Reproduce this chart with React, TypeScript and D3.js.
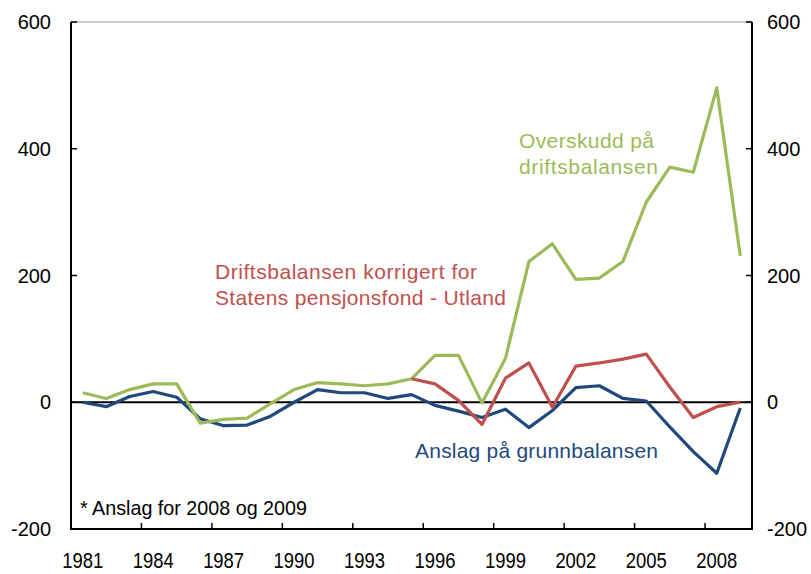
import React from 'react';
import { scaleBand, scaleLinear, line } from 'd3';

const years = Array.from({ length: 29 }, (_, i) => 1981 + i);
const tickYears = [1981, 1984, 1987, 1990, 1993, 1996, 1999, 2002, 2005, 2008];
const yTicks = [-200, 0, 200, 400, 600];

// Overskudd på driftsbalansen, 1981-2009
const overskudd = [15, 6, 20, 29, 29, -33, -27, -25, -2, 20, 31, 29, 26, 29, 37, 74, 74, -1, 69, 222, 250, 194, 196, 222, 316, 371, 363, 496, 231];
// Driftsbalansen korrigert for SPU, 1995-2009
const korrigertYears = [1995, 1996, 1997, 1998, 1999, 2000, 2001, 2002, 2003, 2004, 2005, 2006, 2007, 2008, 2009];
const korrigert = [37, 29, 3, -35, 38, 62, -8, 57, 62, 68, 76, 24, -24, -7, 0];
// Anslag på grunnbalansen, 1981-2009
const grunnbalanse = [0, -7, 9, 17, 8, -26, -37, -36, -22, 0, 20, 15, 15, 6, 12, -5, -14, -24, -11, -40, -13, 23, 26, 6, 2, -39, -78, -112, -9];

const W = 811;
const H = 574;
const margin = { top: 22, right: 59, bottom: 45, left: 71 };

const GREEN = '#9BBB59';
const RED = '#C0504D';
const BLUE = '#1F497D';

export default function App() {
  const x = scaleBand<number>()
    .domain(years)
    .range([margin.left, W - margin.right]);
  const y = scaleLinear().domain([-200, 600]).range([H - margin.bottom, margin.top]);
  const cx = (yr: number) => (x(yr) as number) + x.bandwidth() / 2;

  const path = line<[number, number]>()
    .x((d) => cx(d[0]))
    .y((d) => y(d[1]));

  const green = years.map((yr, i) => [yr, overskudd[i]] as [number, number]);
  const red = korrigertYears.map((yr, i) => [yr, korrigert[i]] as [number, number]);
  const blue = years.map((yr, i) => [yr, grunnbalanse[i]] as [number, number]);

  const left = margin.left;
  const right = W - margin.right;
  const top = margin.top;
  const bottom = H - margin.bottom;
  const sans = '"Liberation Sans", Arial, sans-serif';

  return (
    <svg width={W} height={H} style={{ position: 'absolute', left: 0, top: 0 }}>
      <rect width={W} height={H} fill="#fff" />
      <line x1={left} x2={right} y1={top} y2={top} stroke="#999" strokeWidth={1} />
      <line x1={left} x2={right} y1={y(0)} y2={y(0)} stroke="#000" strokeWidth={2} />

      <path d={path(blue) ?? ''} fill="none" stroke={BLUE} strokeWidth={3.2} strokeLinejoin="round" />
      <path d={path(green) ?? ''} fill="none" stroke={GREEN} strokeWidth={3.2} strokeLinejoin="round" />
      <path d={path(red) ?? ''} fill="none" stroke={RED} strokeWidth={3.2} strokeLinejoin="round" />

      <line x1={left} x2={left} y1={top} y2={bottom + 1} stroke="#000" strokeWidth={2} />
      <line x1={right} x2={right} y1={top} y2={bottom + 1} stroke="#000" strokeWidth={2} />
      <line x1={left - 1} x2={right + 1} y1={bottom} y2={bottom} stroke="#000" strokeWidth={2} />

      {yTicks.map((t) => (
        <g key={t}>
          <line x1={left} x2={left + 6} y1={y(t)} y2={y(t)} stroke="#000" strokeWidth={1.5} />
          <line x1={right - 6} x2={right} y1={y(t)} y2={y(t)} stroke="#000" strokeWidth={1.5} />
          <text x={51} y={y(t)} dy="0.35em" textAnchor="end" fontFamily={sans} fontSize={20} fill="#000">
            {t}
          </text>
          <text x={767} y={y(t)} dy="0.35em" textAnchor="start" fontFamily={sans} fontSize={20} fill="#000">
            {t}
          </text>
        </g>
      ))}

      {tickYears.map((yr) => (
        <g key={yr}>
          {yr !== 1981 && (
            <line x1={x(yr)} x2={x(yr)} y1={bottom} y2={bottom - 6} stroke="#000" strokeWidth={1.5} />
          )}
          <text
            x={cx(yr) - 20.5}
            y={568}
            fontFamily={sans}
            fontSize={22}
            fill="#000"
            textLength={41}
            lengthAdjust="spacingAndGlyphs"
          >
            {yr}
          </text>
        </g>
      ))}

      <text fontFamily={sans} fontSize={21} fill={RED}>
        <tspan x={215} y={279} textLength={262} lengthAdjust="spacing">Driftsbalansen korrigert for</tspan>
        <tspan x={215} y={305} textLength={291} lengthAdjust="spacing">Statens pensjonsfond - Utland</tspan>
      </text>
      <text fontFamily={sans} fontSize={21} fill={GREEN}>
        <tspan x={519} y={148} textLength={135} lengthAdjust="spacing">Overskudd på</tspan>
        <tspan x={519} y={174} textLength={139} lengthAdjust="spacing">driftsbalansen</tspan>
      </text>
      <text x={415} y={458} fontFamily={sans} fontSize={21} fill={BLUE} textLength={243} lengthAdjust="spacing">
        Anslag på grunnbalansen
      </text>
      <text
        x={80}
        y={515}
        fontFamily={sans}
        fontSize={21}
        fill="#000"
        textLength={227}
        lengthAdjust="spacingAndGlyphs"
      >
        * Anslag for 2008 og 2009
      </text>
    </svg>
  );
}
